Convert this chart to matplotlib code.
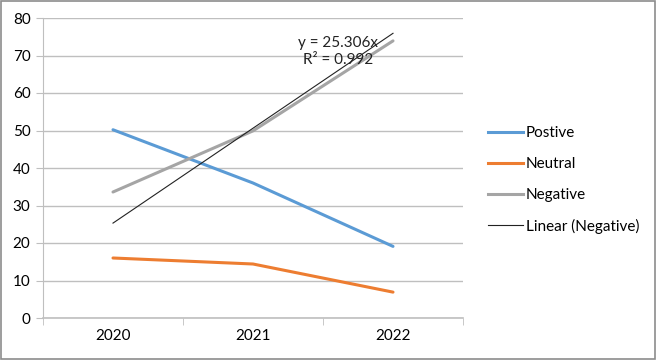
import matplotlib.pyplot as plt
import numpy as np
from matplotlib.lines import Line2D

plt.rcParams['font.family'] = ['Lato', 'DejaVu Sans']

years = ['2020', '2021', '2022']
postive = [50.2, 36.0, 19.1]
neutral = [16.0, 14.4, 6.9]
negative = [33.6, 49.9, 73.9]
slope = 25.306
r2 = 0.992

fig = plt.figure(figsize=(6.56, 3.6), dpi=100)
ax = fig.add_axes([43 / 656, 42 / 360, 420 / 656, 300 / 360])

x = np.arange(len(years))
ax.plot(x, postive, color='#5B9BD5', lw=2.2, solid_capstyle='round', zorder=3)
ax.plot(x, neutral, color='#ED7D31', lw=2.2, solid_capstyle='round', zorder=3)
ax.plot(x, negative, color='#A5A5A5', lw=2.2, solid_capstyle='round', zorder=3)
# trendline through origin, x = 1..n like excel does
ax.plot(x, slope * (x + 1), color='#222222', lw=0.8, zorder=4)

ax.text(1.61, 71, f'y = {slope}x\nR² = {r2}', ha='center', va='center',
        fontsize=11, linespacing=1.3, color='#222222')

ax.set_xlim(-0.5, 2.5)
ax.set_ylim(0, 80)
ax.set_yticks(range(0, 81, 10))
ax.yaxis.grid(True, color='#BFBFBF', lw=1)
ax.set_axisbelow(True)
ax.set_xticks(x)
ax.set_xticklabels(years)
ax.set_xticks([-0.5, 0.5, 1.5, 2.5], minor=True)
ax.tick_params(axis='x', which='major', length=0, pad=8, labelsize=11)
ax.tick_params(axis='x', which='minor', length=5, color='#BFBFBF', direction='out')
ax.tick_params(axis='y', length=5, color='#BFBFBF', labelsize=11, pad=4)
for s in ['top', 'right']:
    ax.spines[s].set_visible(False)
ax.spines['left'].set_color('#BFBFBF')
ax.spines['bottom'].set_color('#BFBFBF')
ax.spines['bottom'].set_linewidth(1.2)

handles = [Line2D([], [], color='#5B9BD5', lw=2.2),
           Line2D([], [], color='#ED7D31', lw=2.2),
           Line2D([], [], color='#A5A5A5', lw=2.2),
           Line2D([], [], color='#222222', lw=0.8)]
labels = ['Postive', 'Neutral', 'Negative', 'Linear (Negative)']
fig.legend(handles, labels, loc='center left', bbox_to_anchor=(474 / 656, 1 - 180 / 360),
           frameon=False, fontsize=11, labelspacing=1.1, handlelength=2.3,
           handletextpad=0.2)

fig.patches.append(plt.Rectangle((0.001, 0.002), 0.997, 0.995, transform=fig.transFigure,
                                 fill=False, edgecolor='#8C8C8C', lw=1.2))

fig.savefig('out.png', dpi=100)
